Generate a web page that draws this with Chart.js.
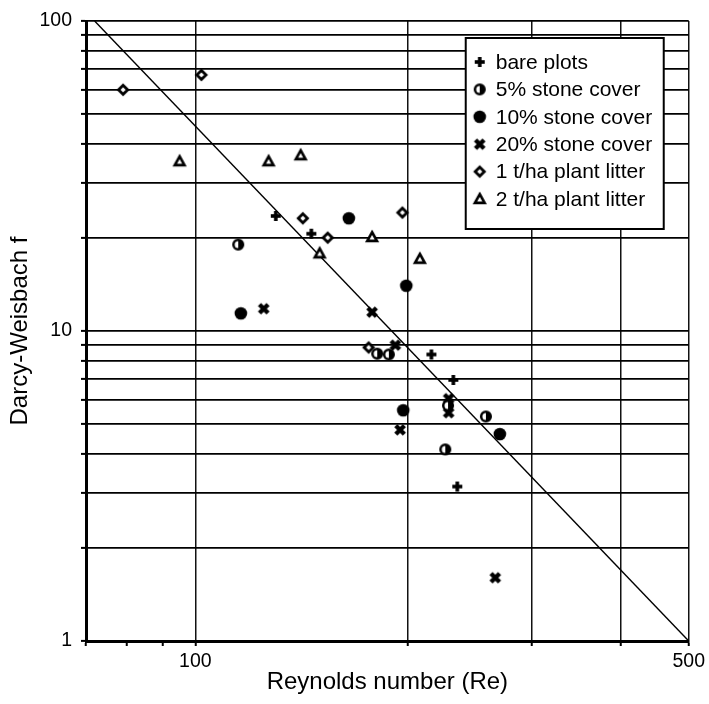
<!DOCTYPE html>
<html>
<head>
<meta charset="utf-8">
<script src="https://cdn.jsdelivr.net/npm/chart.js@4.4.1/dist/chart.umd.min.js"></script>
<style>
html,body{margin:0;padding:0;background:#fff;}
#wrap{width:709px;height:704px;}
</style>
</head>
<body>
<div id="wrap"><canvas id="c" width="709" height="704"></canvas></div>
<script>
// ---- data ----
const seriesNames = ["bare plots", "5% stone cover", "10% stone cover", "20% stone cover", "1 t/ha plant litter", "2 t/ha plant litter"];

const bareRe = [130, 146, 216, 232, 235];
const bareF  = [23.5, 20.6, 8.4, 6.95, 3.15];

const stone5Re = [115, 181, 188, 228, 258, 226];
const stone5F  = [19.0, 8.45, 8.4, 5.75, 5.3, 4.15];

const stone10Re = [116, 165, 199, 197, 270];
const stone10F  = [11.4, 23.1, 14.0, 5.55, 4.65];

const stone20Re = [125, 178, 192, 228.5, 228.5, 195, 266];
const stone20F  = [11.8, 11.5, 9.0, 6.05, 5.45, 4.8, 1.6];

const litter1Re = [79, 102, 142, 154, 196.5, 176];
const litter1F  = [60, 67, 23.1, 20.0, 24.1, 8.85];

const litter2Re = [95, 127, 141, 150, 178, 208];
const litter2F  = [35.3, 35.3, 36.9, 17.8, 20.1, 17.1];

const fitRe = [72, 500];
const fitF  = [100, 1];

const xTickValues = [70, 80, 90, 100, 200, 300, 400, 500];
const xTickLabels = [100, 500];
const xGridValues = [100, 200, 300, 400, 500];
const yTickValues = [1,2,3,4,5,6,7,8,9,10,20,30,40,50,60,70,80,90,100];
const yTickLabels = [1, 10, 100];

// ---- marker images ----
function mk(draw){
  const c = document.createElement('canvas');
  c.width = 20; c.height = 20;
  const g = c.getContext('2d');
  g.translate(10, 10);
  g.fillStyle = '#000'; g.strokeStyle = '#000';
  draw(g);
  return c;
}
const plusImg = mk(g => { g.fillRect(-5, -1.8, 10, 3.6); g.fillRect(-1.8, -5, 3.6, 10); });
const halfImg = mk(g => {
  g.beginPath(); g.arc(0, 0, 4.8, 0, 2*Math.PI); g.fillStyle = '#fff'; g.fill();
  g.lineWidth = 2.5; g.stroke();
  g.beginPath(); g.arc(0, 0, 4.8, -Math.PI/2, Math.PI/2); g.closePath(); g.fillStyle = '#000'; g.fill();
});
const dotImg = mk(g => { g.beginPath(); g.arc(0, 0, 6.3, 0, 2*Math.PI); g.fill(); });
const xImg = mk(g => {
  g.lineWidth = 4.4; g.lineCap = 'butt';
  g.beginPath(); g.moveTo(-4.3, -4.3); g.lineTo(4.3, 4.3); g.moveTo(4.3, -4.3); g.lineTo(-4.3, 4.3); g.stroke();
});
const diaImg = mk(g => {
  g.lineWidth = 2.8;
  g.beginPath(); g.moveTo(0, -4.6); g.lineTo(4.6, 0); g.lineTo(0, 4.6); g.lineTo(-4.6, 0); g.closePath();
  g.fillStyle = '#fff'; g.fill(); g.stroke();
});
const triImg = mk(g => {
  g.lineWidth = 2.7; g.lineJoin = 'miter';
  g.beginPath(); g.moveTo(0, -4.8); g.lineTo(4.8, 3.8); g.lineTo(-4.8, 3.8); g.closePath();
  g.fillStyle = '#fff'; g.fill(); g.stroke();
});
const markerImgs = [plusImg, halfImg, dotImg, xImg, diaImg, triImg];

function pts(xs, ys){ return xs.map((x, i) => ({x: x, y: ys[i]})); }
const seriesData = [
  pts(bareRe, bareF), pts(stone5Re, stone5F), pts(stone10Re, stone10F),
  pts(stone20Re, stone20F), pts(litter1Re, litter1F), pts(litter2Re, litter2F)
];

const FONT = '"Liberation Sans", Arial, Helvetica, sans-serif';

const datasets = seriesNames.map((name, i) => ({
  label: name,
  data: seriesData[i],
  pointStyle: markerImgs[i],
  pointRadius: 6,
  pointHoverRadius: 6,
  showLine: false
}));
datasets.push({
  label: 'fit',
  data: pts(fitRe, fitF),
  showLine: true,
  borderColor: '#000',
  borderWidth: 1.4,
  pointRadius: 0,
  fill: false
});

const boxLegend = {
  id: 'boxLegend',
  afterDraw(chart){
    const ctx = chart.ctx;
    const a = chart.chartArea;
    const x0 = a.right - 223, y0 = a.top + 17, w = 198, h = 191;
    ctx.save();
    ctx.fillStyle = '#fff';
    ctx.fillRect(x0, y0, w, h);
    ctx.lineWidth = 2;
    ctx.strokeStyle = '#000';
    ctx.strokeRect(x0, y0, w, h);
    ctx.font = '21px ' + FONT;
    ctx.fillStyle = '#000';
    ctx.textBaseline = 'middle';
    ctx.textAlign = 'left';
    seriesNames.forEach((name, i) => {
      const cy = y0 + 24 + i * 27.4;
      const img = markerImgs[i];
      ctx.drawImage(img, x0 + 14 - img.width/2, cy - img.height/2);
      ctx.fillText(name, x0 + 30, cy + 1);
    });
    ctx.restore();
  }
};

new Chart(document.getElementById('c'), {
  type: 'scatter',
  data: { datasets: datasets },
  plugins: [boxLegend],
  options: {
    responsive: false,
    devicePixelRatio: 1,
    animation: false,
    events: [],
    layout: { padding: { left: 0, right: 17, top: 21, bottom: 0 } },
    plugins: { legend: { display: false }, tooltip: { enabled: false } },
    scales: {
      x: {
        type: 'logarithmic',
        min: 70, max: 500,
        afterBuildTicks: s => { s.ticks = xTickValues.map(v => ({value: v})); },
        afterFit: s => { s.height = 63; },
        ticks: {
          autoSkip: false, maxRotation: 0, padding: 4,
          color: '#000', font: { family: FONT, size: 19.5 },
          callback: v => xTickLabels.includes(v) ? String(v) : ''
        },
        grid: {
          color: c => (c.tick && xGridValues.includes(c.tick.value)) ? '#111' : 'rgba(0,0,0,0)',
          lineWidth: 1.5,
          tickColor: '#000', tickLength: 5, tickWidth: 2
        },
        border: { display: true, color: '#000', width: 3 },
        title: {
          display: true, text: 'Reynolds number (Re)', color: '#000',
          font: { family: FONT, size: 24 }, padding: { top: 0, bottom: 7 }
        }
      },
      y: {
        type: 'logarithmic',
        min: 1, max: 100,
        afterBuildTicks: s => { s.ticks = yTickValues.map(v => ({value: v})); },
        afterFit: s => { s.width = 86; },
        ticks: {
          autoSkip: false, padding: 9,
          color: '#000', font: { family: FONT, size: 19.5 },
          callback: v => yTickLabels.includes(v) ? String(v) : ''
        },
        grid: {
          color: '#000', lineWidth: 1.8,
          tickColor: '#000', tickLength: 5, tickWidth: 2
        },
        border: { display: true, color: '#000', width: 3 },
        title: {
          display: true, text: 'Darcy-Weisbach f', color: '#000',
          font: { family: FONT, size: 24 }, padding: { top: 6, bottom: 0 }
        }
      }
    }
  }
});
</script>
</body>
</html>
